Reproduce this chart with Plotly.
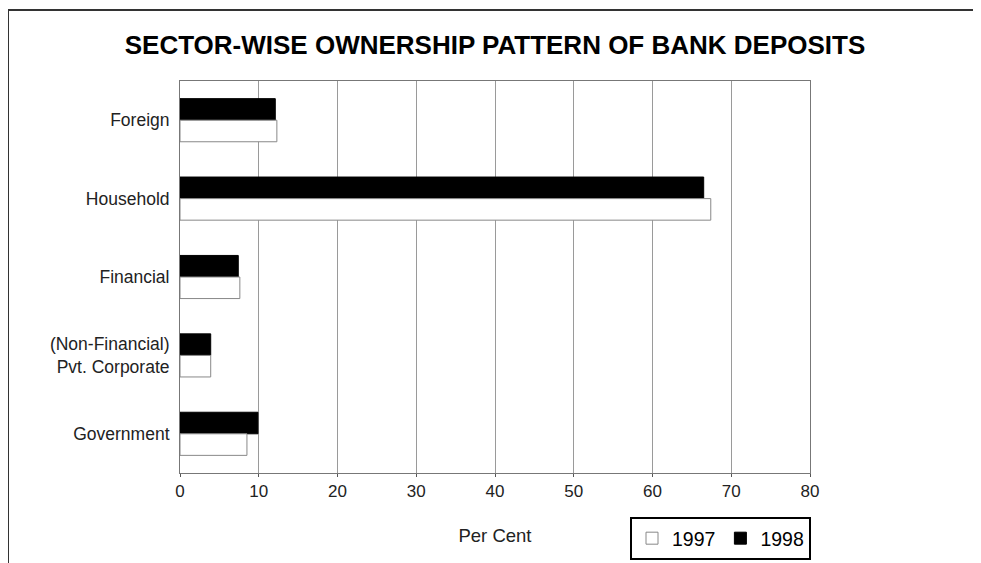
import plotly.graph_objects as go

categories = ["Foreign", "Household", "Financial", "(Non-Financial)<br>Pvt. Corporate", "Government"]
values_1997 = [12.3, 67.4, 7.6, 3.9, 8.5]
values_1998 = [12.1, 66.5, 7.4, 3.9, 9.9]
x_ticks = [0, 10, 20, 30, 40, 50, 60, 70, 80]

FONT = "Liberation Sans, Arial, sans-serif"

fig = go.Figure()
fig.add_trace(go.Bar(
    y=categories, x=values_1998, name="1998", orientation="h",
    marker=dict(color="black", line=dict(color="black", width=1)),
    legendrank=2,
))
fig.add_trace(go.Bar(
    y=categories, x=values_1997, name="1997", orientation="h",
    marker=dict(color="white", line=dict(color="#888888", width=1)),
    legendrank=1,
))

OFF = 8  # page offset of the figure
W, H = 973, 555
ml, mt = 172, 73
pw, ph = 630, 392
mr = W - ml - pw
mb = H - mt - ph

def px_x(p):
    return (p - OFF - ml) / pw

def px_y(p):
    return (H - mb - (p - OFF)) / ph

fig.update_layout(
    width=W, height=H,
    margin=dict(l=ml, r=mr, t=mt, b=mb, autoexpand=False),
    paper_bgcolor="white", plot_bgcolor="white",
    barmode="group", bargap=0.45, bargroupgap=0.0,
    font=dict(family=FONT, color="#222222", size=16),
    title=dict(text="<b>SECTOR-WISE OWNERSHIP PATTERN OF BANK DEPOSITS</b>",
               x=0.5, xref="paper", xanchor="center", y=1 - (45 - OFF) / H, yanchor="middle",
               font=dict(family=FONT, size=26, color="black")),
    xaxis=dict(range=[0, 80], tickvals=x_ticks, showgrid=True, gridcolor="#9a9a9a", gridwidth=1,
               showline=True, linecolor="#777777", linewidth=1, mirror=True,
               ticks="outside", ticklen=3, tickcolor="#555555",
               tickfont=dict(size=17, color="#222222"),
               title=dict(text="Per Cent", standoff=28, font=dict(size=18.5, color="#222222")),
               zeroline=False, automargin=False),
    yaxis=dict(categoryorder="array", categoryarray=categories, autorange="reversed",
               showline=True, linecolor="#777777", linewidth=1, mirror=True,
               ticks="", ticklabelstandoff=6, tickfont=dict(size=17.5, color="#222222"),
               automargin=False),
    legend=dict(orientation="h", x=px_x(630), y=px_y(517), xanchor="left", yanchor="top",
                bordercolor="black", borderwidth=2, bgcolor="white",
                font=dict(size=19.5, color="black"), itemwidth=30,
                traceorder="normal"),
    shapes=[
        dict(type="line", xref="paper", yref="paper", x0=px_x(8), x1=px_x(990),
             y0=px_y(10), y1=px_y(10), line=dict(color="#333333", width=2)),
        dict(type="line", xref="paper", yref="paper", x0=px_x(8), x1=px_x(8),
             y0=px_y(10), y1=px_y(570), line=dict(color="#333333", width=2)),
    ],
)

fig.write_html("out.html")
